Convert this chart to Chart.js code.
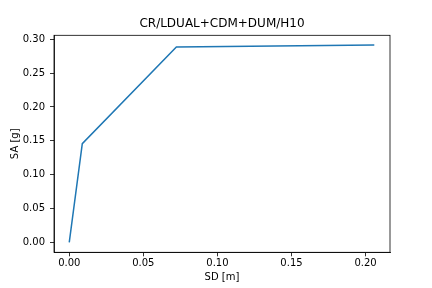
<!DOCTYPE html>
<html><head><meta charset="utf-8">
<script src="https://cdn.jsdelivr.net/npm/chart.js@4"></script>
<style>html,body{margin:0;padding:0;background:#fff}#w{width:432px;height:288px}</style>
</head><body><div id="w"><canvas id="c" width="432" height="288"></canvas></div>
<script>
const titleText = "CR/LDUAL+CDM+DUM/H10";
const sdValues = [0.0, 0.0088, 0.0723, 0.2059];
const saValues = [0.0, 0.1457, 0.2885, 0.2915];
const xTicks = [0.00, 0.05, 0.10, 0.15, 0.20];
const yTicks = [0.00, 0.05, 0.10, 0.15, 0.20, 0.25, 0.30];
const xLabel = "SD [m]";
const yLabel = "SA [g]";

const FONT = "'DejaVu Sans', sans-serif";
const frame = {
  id: 'frame',
  afterDatasetsDraw(chart) {
    const {ctx, chartArea: a} = chart;
    ctx.save();
    ctx.strokeStyle = '#000';
    ctx.lineWidth = 0.8;
    ctx.strokeRect(a.left, a.top, a.right - a.left, a.bottom - a.top);
    ctx.fillStyle = '#000';
    ctx.font = "12px " + FONT;
    ctx.textAlign = 'center';
    ctx.textBaseline = 'middle';
    ctx.fillText(titleText, (a.left + a.right) / 2, 23.5);
    ctx.restore();
  }
};
new Chart(document.getElementById('c'), {
  type: 'scatter',
  data: {
    datasets: [{
      data: sdValues.map((x, i) => ({x: x, y: saValues[i]})),
      showLine: true,
      borderColor: '#1f77b4',
      backgroundColor: '#1f77b4',
      borderWidth: 1.5,
      pointRadius: 0,
      tension: 0
    }]
  },
  options: {
    responsive: false,
    animation: false,
    devicePixelRatio: 1,
    layout: {padding: {left: 0, right: 42, top: 35.3, bottom: 0}},
    plugins: {
      legend: {display: false},
      tooltip: {enabled: false},
      title: {display: false}
    },
    scales: {
      x: {
        type: 'linear', min: -0.0103, max: 0.2165,
        afterBuildTicks: s => { s.ticks = xTicks.map(v => ({value: v})); },
        afterFit: s => { s.height = 35.7; },
        grid: {drawOnChartArea: false, drawTicks: true, tickLength: 4, color: '#000', tickWidth: 0.8},
        border: {display: true, color: '#000', width: 0.8},
        ticks: {color: '#000', font: {family: FONT, size: 10}, padding: 1, maxRotation: 0,
          callback: v => v.toFixed(2)},
        title: {display: true, text: xLabel, color: '#000', font: {family: FONT, size: 10}, padding: {top: 0, bottom: 4.3}}
      },
      y: {
        type: 'linear', min: -0.0148, max: 0.3059,
        afterBuildTicks: s => { s.ticks = yTicks.map(v => ({value: v})); },
        afterFit: s => { s.width = 54; },
        grid: {drawOnChartArea: false, drawTicks: true, tickLength: 4, color: '#000', tickWidth: 0.8},
        border: {display: true, color: '#000', width: 0.8},
        ticks: {color: '#000', font: {family: FONT, size: 10}, padding: 5,
          callback: v => v.toFixed(2)},
        title: {display: true, text: yLabel, color: '#000', font: {family: FONT, size: 10}, padding: {top: 9, bottom: 0}}
      }
    }
  },
  plugins: [frame]
});
</script>
</body></html>
